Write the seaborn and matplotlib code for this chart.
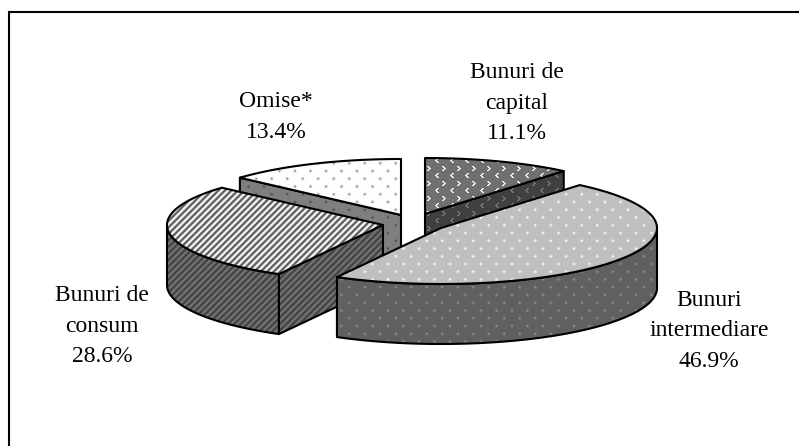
import numpy as np
import seaborn as sns
import matplotlib
matplotlib.use('Agg')
import matplotlib.pyplot as plt
from matplotlib.patches import Polygon

categories = ['Bunuri de\ncapital', 'Bunuri\nintermediare', 'Bunuri de\nconsum', 'Omise*']
values = [11.1, 46.9, 28.6, 13.4]

W, H = 799, 446
RX, RY, DEPTH = 216, 56, 60

# per slice styling: exploded centre, label centre, top/wall textures
centers = [(425, 214), (441, 228), (383, 225), (401, 215)]
label_pos = [(517, 103), (709, 331), (102, 326), (276, 117)]
top_style = [('chevron', '#707070', '#f0f0f0'), ('dots', '#bfbfbf', '#ffffff'),
             ('stripes', '#555555', '#ffffff'), ('dots', '#ffffff', '#8c8c8c')]
wall_style = [('chevron', '#404040', '#757575'), ('dots', '#606060', '#909090'),
              ('stripes', '#404040', '#767676'), ('dots', '#808080', '#4c4c4c')]

sns.set_theme(style='white')
plt.rcParams['font.family'] = ['Liberation Serif', 'DejaVu Serif']

CHEVRONS = ['...............',
            '.......##......',
            '........##.....',
            '.........##....',
            '........##.....',
            '.......##......',
            '...............',
            '...............',
            '..##...........',
            '.##............',
            '##.............',
            '.##............',
            '..##...........',
            '...............',
            '...............']


def texture(kind, base, accent):
    base = np.array(matplotlib.colors.to_rgb(base))
    accent = np.array(matplotlib.colors.to_rgb(accent))
    y, x = np.mgrid[0:H, 0:W]
    if kind == 'stripes':
        amount = 0.5 + 0.5 * np.sin(2 * np.pi * (x + y) / 6.5)
    elif kind == 'dots':
        row = np.round(y / 7.75)
        dx = (x - 7.75 * (row % 2) + 7.75) % 15.5 - 7.75
        dy = y - row * 7.75
        amount = np.exp(-(dx ** 2 + dy ** 2) / 1.6)
    else:
        tile = np.array([[c == '#' for c in r] for r in CHEVRONS], dtype=float)
        amount = tile[y % 15, x % 15]
    return base + (accent - base) * amount[..., None]


def arc(center, start, end, drop=0):
    t = np.radians(np.linspace(start, end, max(int(abs(end - start)) * 2, 2)))
    return np.column_stack([center[0] + RX * np.sin(t), center[1] - RY * np.cos(t) + drop])


def paint(ax, pts, style, zorder):
    poly = Polygon(pts, closed=True, facecolor='none', edgecolor='black', lw=1.5,
                   joinstyle='round', zorder=zorder + 0.1)
    ax.add_patch(poly)
    img = ax.imshow(texture(*style), extent=(0, W, H, 0), interpolation='nearest',
                    aspect='auto', zorder=zorder)
    img.set_clip_path(poly)


def edge_wall(center, angle):
    c = np.array(center, dtype=float)
    rim = arc(center, angle, angle + 1)[0]
    return [c, rim, rim + [0, DEPTH], c + [0, DEPTH]]


fig = plt.figure(figsize=(W / 100, H / 100), dpi=100)
ax = fig.add_axes([0, 0, 1, 1])

# slices go clockwise from the top, painted back to front
edges = np.cumsum([0] + values) * 3.6
for z, i in enumerate([3, 0, 2, 1]):
    start, end = edges[i], edges[i + 1]
    center = centers[i]
    level = 2 + z
    for angle, normal in [(start, start - 90), (end, end + 90)]:
        if np.cos(np.radians(normal)) < -1e-6:
            paint(ax, edge_wall(center, angle), wall_style[i], level)
    a, b = max(start, 90), min(end, 270)
    if a < b:
        paint(ax, np.vstack([arc(center, a, b), arc(center, b, a, DEPTH)]), wall_style[i], level)
    paint(ax, np.vstack([[center], arc(center, start, end)]), top_style[i], level + 0.5)

for name, val, (lx, ly) in zip(categories, values, label_pos):
    ax.text(lx, ly, f'{name}\n{val}%', ha='center', va='center', fontsize=17,
            color='black', linespacing=1.58, zorder=10)

ax.plot([8.5, 8.5, W], [H, 11.5, 11.5], color='black', lw=1.5, solid_joinstyle='miter', zorder=1)

ax.set_xlim(0, W)
ax.set_ylim(H, 0)
ax.axis('off')
fig.savefig('out.png', dpi=100, facecolor='white')
